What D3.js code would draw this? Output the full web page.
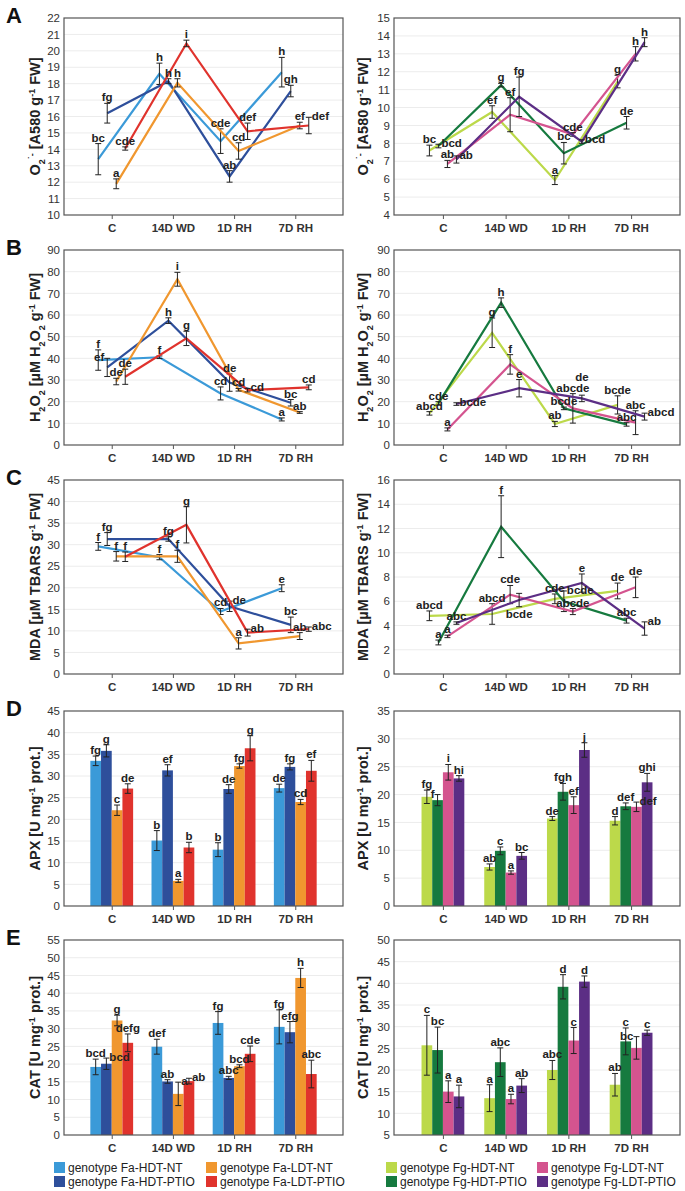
<!DOCTYPE html>
<html>
<head>
<meta charset="utf-8">
<script src="https://cdn.jsdelivr.net/npm/d3@7"></script>
<style>
body { margin: 0; background: #fff; }
svg text { font-family: "Liberation Sans", Arial, sans-serif; }
.tick text { fill: #333; }
</style>
</head>
<body>
<script>
// categories and series
var cats = ["C", "14D WD", "1D RH", "7D RH"];
var faNames = ["genotype Fa-HDT-NT", "genotype Fa-HDT-PTIO", "genotype Fa-LDT-NT", "genotype Fa-LDT-PTIO"];
var fgNames = ["genotype Fg-HDT-NT", "genotype Fg-HDT-PTIO", "genotype Fg-LDT-NT", "genotype Fg-LDT-PTIO"];
var faColors = ["#3b9ad8", "#2e4f9b", "#f0972f", "#e0332d"];
var fgColors = ["#bcd94a", "#167a3f", "#d4548f", "#5c2e85"];

// A: superoxide
var o2Fa = [[13.4, 18.6, 14.5, 18.7], [16.2, 18.15, 12.35, 17.55], [11.9, 18.05, 13.9, 15.45], [14.05, 20.45, 15.1, 15.45]];
var o2FaErr = [[0.95, 0.65, 0.75, 0.9], [0.6, 0.15, 0.35, 0.35], [0.3, 0.25, 0.5, 0.2], [0.1, 0.2, 0.5, 0.5]];
var o2FaLet = [["bc", "h", "cde", "h"], ["fg", "h", "ab", "gh"], ["a", "h", "cd", "ef"], ["cde", "i", "def", "def"]];
var o2Fg = [[7.6, 9.75, 5.95, 11.45], [7.85, 11.25, 7.45, 9.15], [6.85, 9.6, 8.5, 13.0], [7.1, 10.6, 8.1, 13.65]];
var o2FgErr = [[0.3, 0.35, 0.25, 0.35], [0.1, 0.1, 0.6, 0.35], [0.2, 0.95, 0.1, 0.4], [0.2, 1.1, 0.1, 0.25]];
var o2FgLet = [["bc", "ef", "a", "g"], ["bcd", "g", "bc", "de"], ["ab", "ef", "cde", "h"], ["ab", "fg", "bcd", "h"]];

// B: hydrogen peroxide
var h2o2Fa = [[39.2, 40.5, 23.8, 11.8], [35.8, 57.4, 28.8, 19.5], [29.3, 76.5, 25.5, 15.0], [31.5, 49.2, 25.3, 26.6]];
var h2o2FaErr = [[4.7, 0.6, 3, 0.7], [4.2, 1.3, 4, 1.5], [1.5, 3.2, 0.6, 0.4], [3.5, 3.3, 0.8, 1.1]];
var h2o2FaLet = [["f", "f", "cd", "a"], ["ef", "h", "de", "bc"], ["de", "i", "cd", "ab"], ["de", "g", "cd", "cd"]];
var h2o2Fg = [[14.6, 51.8, 9.7, 18.5], [19.2, 65.7, 16.9, 9.5], [7.2, 37.2, 16.9, 10.3], [18.9, 26.2, 21.5, 13.1]];
var h2o2FgErr = [[0.8, 6.8, 1.2, 4.2], [0.8, 2.2, 0.6, 0.8], [0.7, 4.5, 6.8, 5.5], [0.6, 4, 1.5, 1.6]];
var h2o2FgLet = [["abcd", "g", "ab", "bcde"], ["cde", "h", "bcde", "abc"], ["a", "f", "abcde", "abc"], ["bcde", "e", "de", "abcd"]];

// C: MDA
var mdaFa = [[29.6, 27.1, 14.5, 19.9], [31.3, 31.3, 15.7, 11.4], [27.3, 27.3, 7.1, 8.8], [27.2, 34.6, 9.6, 10.4]];
var mdaFaErr = [[0.9, 0.6, 0.7, 0.8], [1.5, 0.5, 1.2, 1.8], [1.1, 1.4, 1.3, 0.8], [1.1, 4.2, 0.8, 0.5]];
var mdaFaLet = [["f", "f", "cd", "e"], ["fg", "fg", "de", "bc"], ["f", "f", "a", "ab"], ["f", "g", "ab", "abc"]];
var mdaFg = [[4.8, 4.95, 6.2, 6.85], [2.6, 12.15, 6.0, 4.4], [3.1, 6.55, 5.15, 7.15], [4.2, 6.1, 7.5, 3.75]];
var mdaFgErr = [[0.4, 0.85, 0.4, 0.65], [0.2, 2.55, 0.85, 0.2], [0.1, 0.75, 0.25, 0.85], [0.1, 0.55, 0.75, 0.55]];
var mdaFgLet = [["abcd", "abcd", "cde", "de"], ["a", "f", "bcde", "abc"], ["a", "cde", "abcde", "de"], ["abc", "bcde", "e", "ab"]];

// D: APX
var apxFa = [[33.5, 15.1, 13.0, 27.2], [35.8, 31.3, 27.0, 32.1], [22.1, 5.8, 32.3, 24.0], [27.1, 13.5, 36.4, 31.2]];
var apxFaErr = [[1.1, 2.3, 1.6, 0.9], [1.4, 1.3, 1.0, 0.7], [1.2, 0.35, 0.5, 0.6], [1.1, 1.2, 2.9, 2.4]];
var apxFaLet = [["fg", "b", "b", "de"], ["g", "ef", "de", "fg"], ["c", "a", "fg", "cd"], ["de", "b", "g", "ef"]];
var apxFg = [[19.6, 7.0, 15.7, 15.3], [19.0, 9.9, 20.5, 17.9], [24.0, 6.0, 18.1, 17.8], [22.9, 9.0, 28.0, 22.2]];
var apxFgErr = [[1.2, 0.55, 0.35, 0.75], [1.0, 0.7, 1.5, 0.6], [1.4, 0.3, 1.5, 0.85], [0.5, 0.6, 1.3, 1.6]];
var apxFgLet = [["fg", "ab", "de", "d"], ["f", "c", "fgh", "def"], ["i", "a", "ef", "def"], ["hi", "bc", "j", "ghi"]];

// E: CAT
var catFa = [[19.2, 24.9, 31.6, 30.5], [20.1, 15.1, 16.1, 29.0], [32.3, 11.6, 19.4, 44.3], [26.0, 15.2, 22.9, 17.2]];
var catFaErr = [[2.2, 2.1, 3.2, 4.8], [1.6, 0.5, 0.45, 3.0], [1.5, 3.3, 0.4, 2.7], [2.5, 0.8, 2.2, 3.9]];
var catFaLet = [["bcd", "def", "fg", "fg"], ["bcd", "ab", "abc", "efg"], ["g", "a", "bcd", "h"], ["defg", "ab", "cde", "abc"]];
var catFg = [[25.7, 13.5, 20.0, 16.6], [24.6, 21.8, 39.2, 26.6], [15.0, 13.3, 26.8, 25.1], [13.9, 16.4, 40.4, 28.6]];
var catFgErr = [[6.9, 3.1, 2.2, 2.6], [5.3, 3.3, 2.8, 3.1], [2.5, 1.1, 3.0, 2.6], [2.6, 1.6, 1.3, 0.6]];
var catFgLet = [["c", "a", "abc", "ab"], ["bc", "abc", "d", "c"], ["a", "a", "c", "bc"], ["a", "ab", "d", "c"]];

var W = 685, H = 1191;
var svg = d3.select("body").append("svg").attr("width", W).attr("height", H);
svg.append("rect").attr("width", W).attr("height", H).attr("fill", "#fff");

var tO2 = [["O"], ["2", "sub"], ["\u02D9-", "super"], [" [A580 g"], ["-1", "super"], [" FW]"]];
var tH2O2 = [["H"], ["2", "sub"], ["O"], ["2", "sub"], [" [\u00B5M H"], ["2", "sub"], ["O"], ["2", "sub"], [" g"], ["-1", "super"], [" FW]"]];
var tMDA = [["MDA [\u00B5M TBARS g"], ["-1", "super"], [" FW]"]];
var tAPX = [["APX [U mg"], ["-1", "super"], [" prot.]"]];
var tCAT = [["CAT [U mg"], ["-1", "super"], [" prot.]"]];

var rows = [
	{ letter: "A", top: 18, bottom: 215, type: "line", title: tO2,
	  left: { vals: o2Fa, err: o2FaErr, lets: o2FaLet, dom: [10, 22], step: 1 },
	  right: { vals: o2Fg, err: o2FgErr, lets: o2FgLet, dom: [4, 15], step: 1 } },
	{ letter: "B", top: 250, bottom: 445, type: "line", title: tH2O2,
	  left: { vals: h2o2Fa, err: h2o2FaErr, lets: h2o2FaLet, dom: [0, 90], step: 10 },
	  right: { vals: h2o2Fg, err: h2o2FgErr, lets: h2o2FgLet, dom: [0, 90], step: 10 } },
	{ letter: "C", top: 480, bottom: 674, type: "line", title: tMDA,
	  left: { vals: mdaFa, err: mdaFaErr, lets: mdaFaLet, dom: [0, 45], step: 5 },
	  right: { vals: mdaFg, err: mdaFgErr, lets: mdaFgLet, dom: [0, 16], step: 2 } },
	{ letter: "D", top: 711, bottom: 906, type: "bar", title: tAPX,
	  left: { vals: apxFa, err: apxFaErr, lets: apxFaLet, dom: [0, 45], step: 5 },
	  right: { vals: apxFg, err: apxFgErr, lets: apxFgLet, dom: [0, 35], step: 5 } },
	{ letter: "E", top: 940, bottom: 1135, type: "bar", title: tCAT,
	  left: { vals: catFa, err: catFaErr, lets: catFaLet, dom: [0, 55], step: 5 },
	  right: { vals: catFg, err: catFgErr, lets: catFgLet, dom: [5, 50], step: 5 } }
];

function drawTitle(cx, cy, parts) {
	var t = svg.append("text")
		.attr("transform", "translate(" + cx + "," + cy + ") rotate(-90)")
		.attr("text-anchor", "middle")
		.attr("font-size", 14.5)
		.attr("font-weight", "bold")
		.attr("fill", "#222");
	parts.forEach(function(p) {
		var s = t.append("tspan").text(p[0]);
		if (p[1]) s.attr("font-size", 9).attr("baseline-shift", p[1]);
	});
}

// boxes overlap test for letter placement
function hits(b, list) {
	for (var i = 0; i < list.length; i++) {
		var o = list[i];
		if (b.x0 < o.x1 + 1 && b.x1 > o.x0 - 1 && b.y0 < o.y1 && b.y1 > o.y0) return true;
	}
	return false;
}

function drawPanel(row, d, x0, x1, colors, titleX) {
	var g = svg.append("g");
	var x = d3.scalePoint().domain(cats).range([x0, x1]).padding(0.78);
	var y = d3.scaleLinear().domain(d.dom).range([row.bottom, row.top]);
	var ticks = d3.range(d.dom[0], d.dom[1] + d.step / 2, d.step);

	g.selectAll(".grid").data(ticks.slice(1, -1)).enter().append("line")
		.attr("x1", x0).attr("x2", x1)
		.attr("y1", function(v) { return y(v); }).attr("y2", function(v) { return y(v); })
		.attr("stroke", "#ececec");

	var ya = g.append("g").attr("transform", "translate(" + x0 + ",0)")
		.call(d3.axisLeft(y).tickValues(ticks).tickSize(0).tickPadding(4).tickFormat(d3.format("d")));
	ya.select(".domain").remove();
	ya.selectAll("text").attr("font-size", 11.5);

	var xa = g.append("g").attr("transform", "translate(0," + row.bottom + ")")
		.call(d3.axisBottom(x).tickSize(4).tickPadding(5));
	xa.select(".domain").remove();
	xa.selectAll("line").attr("stroke", "#555");
	xa.selectAll("text").attr("font-size", 11.5).attr("font-weight", "bold").attr("fill", "#222");

	var bw = 10.7, lo = 9;
	var all = [];
	d.vals.forEach(function(vs, si) {
		var off = row.type == "bar" ? (si - 1.5) * bw : (si - 1.5) * lo;
		var pts = vs.map(function(v, ci) {
			return { x: x(cats[ci]) + off, v: v, e: d.err[si][ci], l: d.lets[si][ci] };
		});
		all = all.concat(pts);
		if (row.type == "bar") {
			g.selectAll(null).data(pts).enter().append("rect")
				.attr("x", function(p) { return p.x - bw / 2; })
				.attr("width", bw)
				.attr("y", function(p) { return y(p.v); })
				.attr("height", function(p) { return y(d.dom[0]) - y(p.v); })
				.attr("fill", colors[si]);
		} else {
			g.append("path").datum(pts)
				.attr("d", d3.line().x(function(p) { return p.x; }).y(function(p) { return y(p.v); }))
				.attr("fill", "none").attr("stroke", colors[si]).attr("stroke-width", 2.2);
		}
		pts.forEach(function(p) {
			var yt = y(p.v + p.e), yb = y(p.v - p.e);
			g.append("line").attr("x1", p.x).attr("x2", p.x).attr("y1", yt).attr("y2", yb)
				.attr("stroke", "#222").attr("stroke-width", 1);
			[yt, yb].forEach(function(yy) {
				g.append("line").attr("x1", p.x - 3).attr("x2", p.x + 3).attr("y1", yy).attr("y2", yy)
					.attr("stroke", "#222").attr("stroke-width", 1);
			});
		});
	});

	// letters: above the bar, else left, right or below, whichever is free
	var placed = [];
	all.forEach(function(p) {
		var yt = y(p.v + p.e), yb = y(p.v - p.e);
		var w = p.l.length * 7 + 1, h = 9;
		var opts = [
			{ x: p.x, y: yt - 2, a: "middle" },
			{ x: p.x - 3, y: yt + 3, a: "end" },
			{ x: p.x + 3, y: yt + 3, a: "start" },
			{ x: p.x, y: yb + 11, a: "middle" },
			{ x: p.x + 3, y: yt - 2, a: "start" },
			{ x: p.x - 3, y: yt - 2, a: "end" },
			{ x: p.x, y: yt - 14, a: "middle" },
			{ x: p.x, y: yt - 24, a: "middle" }
		];
		var pick = opts[0];
		for (var i = 0; i < opts.length; i++) {
			var o = opts[i];
			var bx = o.a == "middle" ? o.x - w / 2 : (o.a == "end" ? o.x - w : o.x);
			var box = { x0: bx, x1: bx + w, y0: o.y - h, y1: o.y };
			if (!hits(box, placed) && box.x1 < W) { pick = o; pick.box = box; break; }
		}
		if (!pick.box) {
			var bx0 = pick.x - w / 2;
			pick.box = { x0: bx0, x1: bx0 + w, y0: pick.y - h, y1: pick.y };
		}
		placed.push(pick.box);
		g.append("text").attr("x", pick.x).attr("y", pick.y)
			.attr("text-anchor", pick.a)
			.attr("font-size", 11.5).attr("font-weight", "bold").attr("fill", "#222")
			.text(p.l);
	});

	g.append("rect").attr("x", x0).attr("y", row.top)
		.attr("width", x1 - x0).attr("height", row.bottom - row.top)
		.attr("fill", "none").attr("stroke", "#555").attr("stroke-width", 1.2);

	drawTitle(titleX, (row.top + row.bottom) / 2, row.title);
}

rows.forEach(function(row) {
	drawPanel(row, row.left, 64, 343, faColors, 40);
	drawPanel(row, row.right, 394, 680, fgColors, 368);
	svg.append("text").attr("x", 6).attr("y", row.top + 5)
		.attr("font-size", 22).attr("font-weight", "bold").attr("fill", "#111")
		.text(row.letter);
});

// legend
function legend(names, colors, x, colW) {
	names.forEach(function(n, i) {
		var col = Math.floor(i / 2), r = i % 2;
		var lx = x + col * colW, ly = 1162 + r * 14;
		svg.append("rect").attr("x", lx).attr("y", ly).attr("width", 11).attr("height", 11).attr("fill", colors[i]);
		svg.append("text").attr("x", lx + 14).attr("y", ly + 10).attr("font-size", 12).attr("fill", "#222").text(n);
	});
}
legend(faNames, faColors, 54, 152);
legend(fgNames, fgColors, 386, 151);
</script>
</body>
</html>
